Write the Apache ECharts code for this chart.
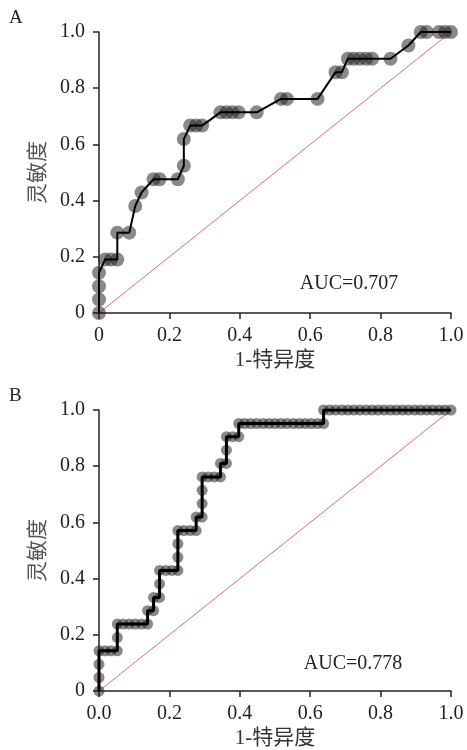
<!DOCTYPE html>
<html>
<head>
<meta charset="utf-8">
<script src="https://cdn.jsdelivr.net/npm/echarts@6/dist/echarts.min.js"></script>
<style>html,body{margin:0;padding:0;background:#fff}#c{width:467px;height:750px}</style>
</head>
<body>
<div id="c"></div>
<script>
// Panel A ROC points (1-specificity, sensitivity)
const rocA_fpr = [0,0,0,0,0.017,0.034,0.052,0.052,0.086,0.103,0.121,0.155,0.172,0.224,0.241,0.241,0.259,0.276,0.293,0.345,0.362,0.379,0.397,0.448,0.517,0.534,0.621,0.672,0.690,0.707,0.724,0.741,0.759,0.776,0.828,0.879,0.914,0.931,0.966,0.983,1];
const rocA_tpr = [0,0.048,0.095,0.143,0.190,0.190,0.190,0.286,0.286,0.381,0.429,0.476,0.476,0.476,0.524,0.619,0.667,0.667,0.667,0.714,0.714,0.714,0.714,0.714,0.762,0.762,0.762,0.857,0.857,0.905,0.905,0.905,0.905,0.905,0.905,0.952,1,1,1,1,1];
// Panel B ROC points
const rocB_fpr = [0,0,0,0,0.017,0.034,0.052,0.052,0.052,0.069,0.086,0.103,0.121,0.138,0.138,0.155,0.155,0.172,0.172,0.172,0.190,0.207,0.224,0.224,0.224,0.224,0.241,0.259,0.276,0.276,0.293,0.293,0.293,0.293,0.310,0.328,0.345,0.345,0.362,0.362,0.362,0.379,0.397,0.397,
  0.414,0.431,0.448,0.466,0.483,0.500,0.517,0.534,0.552,0.569,0.586,0.603,0.621,0.638,0.638,
  0.655,0.672,0.690,0.707,0.724,0.741,0.759,0.776,0.793,0.810,0.828,0.845,0.862,0.879,0.897,0.914,0.931,0.948,0.966,0.983,1];
const rocB_tpr = [0,0.048,0.095,0.143,0.143,0.143,0.143,0.190,0.238,0.238,0.238,0.238,0.238,0.238,0.286,0.286,0.333,0.333,0.381,0.429,0.429,0.429,0.429,0.476,0.524,0.571,0.571,0.571,0.571,0.619,0.619,0.667,0.714,0.762,0.762,0.762,0.762,0.810,0.810,0.857,0.905,0.905,0.905,0.952,
  0.952,0.952,0.952,0.952,0.952,0.952,0.952,0.952,0.952,0.952,0.952,0.952,0.952,0.952,1,
  1,1,1,1,1,1,1,1,1,1,1,1,1,1,1,1,1,1,1,1,1];
const refDiag = [[0,0],[1,1]];
const xTicksA = ['0','0.2','0.4','0.6','0.8','1.0'];
const xTicksB = ['0.0','0.2','0.4','0.6','0.8','1.0'];
const yTicks = ['0','0.2','0.4','0.6','0.8','1.0'];
const aucA = 'AUC=0.707';
const aucB = 'AUC=0.778';

const FONT = "'Liberation Serif', 'Noto Sans CJK SC', serif";
const zip = (a, b) => a.map((v, i) => [v, b[i]]);

function xAxis(idx, ticks) {
  return {
    type: 'value', gridIndex: idx, min: 0, max: 1, interval: 0.2,
    name: '1-特异度', nameLocation: 'middle', nameGap: 37,
    nameTextStyle: {fontFamily: FONT, fontSize: 21, color: '#333'},
    axisLine: {show: true, onZero: false, lineStyle: {color: '#222', width: 1.5}},
    axisTick: {show: true, inside: false, length: 6, lineStyle: {color: '#222', width: 1.5}},
    splitLine: {show: false},
    axisLabel: {fontFamily: FONT, fontSize: 20, color: '#222', margin: 13,
      formatter: v => ticks[Math.round(v / 0.2)]}
  };
}
function yAxis(idx) {
  return {
    type: 'value', gridIndex: idx, min: 0, max: 1, interval: 0.2,
    name: '灵敏度', nameLocation: 'middle', nameGap: 48,
    nameTextStyle: {fontFamily: FONT, fontSize: 21, color: '#555'},
    axisLine: {show: true, onZero: false, lineStyle: {color: '#222', width: 1.5}},
    axisTick: {show: true, inside: false, length: 6, lineStyle: {color: '#222', width: 1.5}},
    splitLine: {show: false},
    axisLabel: {fontFamily: FONT, fontSize: 20, color: '#222', margin: 14,
      formatter: v => yTicks[Math.round(v / 0.2)]}
  };
}

const chart = echarts.init(document.getElementById('c'), null, {renderer: 'canvas'});
chart.setOption({
  animation: false,
  backgroundColor: '#fff',
  grid: [
    {left: 99, top: 32, width: 352, height: 281},
    {left: 99, top: 410, width: 352, height: 282}
  ],
  xAxis: [xAxis(0, xTicksA), xAxis(1, xTicksB)],
  yAxis: [yAxis(0), yAxis(1)],
  series: [
    {type: 'line', xAxisIndex: 0, yAxisIndex: 0, data: refDiag, symbol: 'none', z: 1,
      lineStyle: {color: '#e06a6a', width: 1}},
    {type: 'scatter', xAxisIndex: 0, yAxisIndex: 0, data: zip(rocA_fpr, rocA_tpr), symbolSize: 14, z: 2,
      itemStyle: {color: 'rgba(30,30,30,0.66)'}},
    {type: 'line', xAxisIndex: 0, yAxisIndex: 0, data: zip(rocA_fpr, rocA_tpr), symbol: 'none', z: 3,
      lineStyle: {color: '#000', width: 2}},
    {type: 'line', xAxisIndex: 1, yAxisIndex: 1, data: refDiag, symbol: 'none', z: 1,
      lineStyle: {color: '#e06a6a', width: 1}},
    {type: 'scatter', xAxisIndex: 1, yAxisIndex: 1, data: zip(rocB_fpr, rocB_tpr), symbolSize: 11, z: 2,
      itemStyle: {color: 'rgba(30,30,30,0.66)'}},
    {type: 'line', xAxisIndex: 1, yAxisIndex: 1, data: zip(rocB_fpr, rocB_tpr), symbol: 'none', z: 3,
      lineStyle: {color: '#000', width: 3}}
  ],
  graphic: [
    {type: 'text', left: 9, top: 9, style: {text: 'A', font: "19px " + FONT, fill: '#222'}},
    {type: 'text', left: 9, top: 387, style: {text: 'B', font: "19px " + FONT, fill: '#222'}},
    {type: 'text', x: 349, y: 284, style: {text: aucA, font: "20px " + FONT, fill: '#222', align: 'center', verticalAlign: 'middle'}},
    {type: 'text', x: 353, y: 664, style: {text: aucB, font: "20px " + FONT, fill: '#222', align: 'center', verticalAlign: 'middle'}}
  ]
});
</script>
</body>
</html>
